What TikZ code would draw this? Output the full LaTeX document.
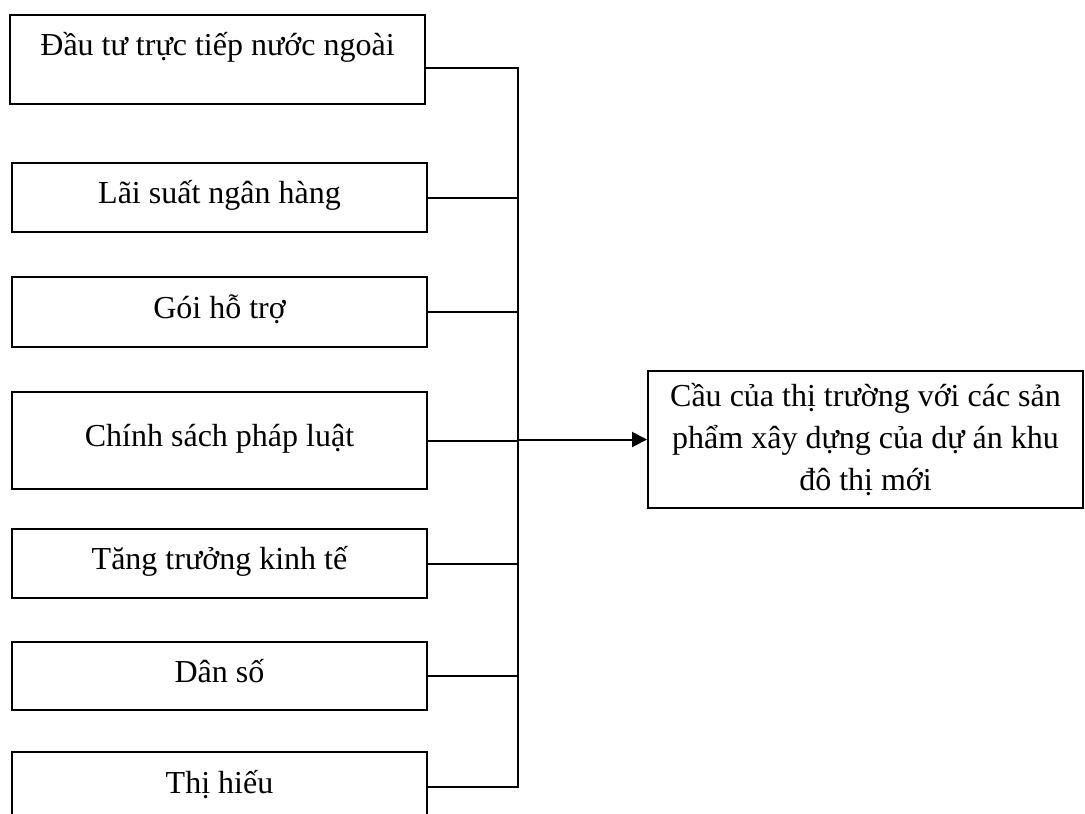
\documentclass[tikz,border=0pt]{standalone}
\usepackage{fontspec}
\setmainfont{Liberation Serif}
\usetikzlibrary{arrows.meta}

\begin{document}
\begin{tikzpicture}[x=0.4pt, y=-0.4pt, line width=0.8pt, line join=miter,
	font=\fontsize{12.8}{16.8}\selectfont, >={Triangle[length=6pt,width=6pt]},
	factor/.style={draw, minimum width=166pt, inner sep=0pt, text height=9pt, text depth=4.2pt}]
	% Khung hình
	\useasboundingbox (0,0) rectangle (1085,813);
	\clip (0,0) rectangle (1085,813);
	
	% Các nhân tố ảnh hưởng
	\node[factor, minimum height=35.6pt, text depth=12.6pt] (dautu) at (217.5,59.5) {Đầu tư trực tiếp nước ngoài};
	\node[factor, minimum height=27.6pt] (laisuat) at (219.5,197.5) {Lãi suất ngân hàng};
	\node[factor, minimum height=28pt] (goihotro) at (219.5,312) {Gói hỗ trợ};
	\node[factor, minimum height=38.8pt] (chinhsach) at (219.5,440.5) {Chính sách pháp luật};
	\node[factor, minimum height=27.6pt] (tangtruong) at (219.5,563.5) {Tăng trưởng kinh tế};
	\node[factor, minimum height=27.2pt] (danso) at (219.5,676) {Dân số};
	\node[factor, minimum height=28pt] (thihieu) at (219.5,787) {Thị hiếu};
	
	% Cầu thị trường
	\node[draw, minimum width=174pt, minimum height=54.8pt, align=center, inner sep=0pt] (cau) at (865.5,439.5)
		{Cầu của thị trường với các sản\\ phẩm xây dựng của dự án khu\\ đô thị mới};
	
	% Đường gom
	\coordinate (bus) at (518,0);
	\draw ([yshift=-3.4pt]dautu.east) -- ([yshift=-3.4pt]dautu.east -| bus) -- (thihieu.east -| bus) -- (thihieu.east);
	\draw (laisuat.east) -- (laisuat.east -| bus);
	\draw (goihotro.east) -- (goihotro.east -| bus);
	\draw (chinhsach.east) -- (chinhsach.east -| bus);
	\draw (tangtruong.east) -- (tangtruong.east -| bus);
	\draw (danso.east) -- (danso.east -| bus);
	
	% Mũi tên sang cầu thị trường
	\draw[->] (cau.west -| bus) -- (cau.west);
\end{tikzpicture}
\end{document}
